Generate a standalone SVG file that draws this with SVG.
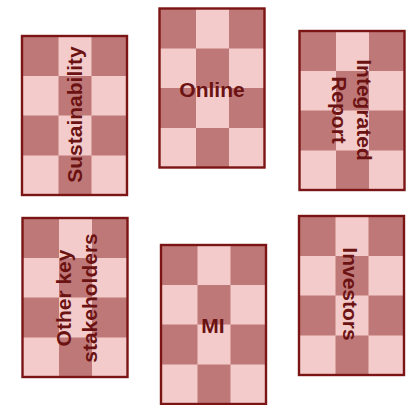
<svg xmlns="http://www.w3.org/2000/svg" xmlns:xlink="http://www.w3.org/1999/xlink" width="408" height="405" viewBox="0 0 408 405">
<style>
.lt{fill:#f4cbcb}
.dk{fill:#bf7878}
.bd{fill:none;stroke:#7b1515;stroke-width:2.4}
.lb{font-family:"Liberation Sans",Arial,sans-serif;font-weight:bold;font-size:21px;fill:#6b1212;text-anchor:middle}
</style>
<defs>
<g id="cb">
<rect class="lt" x="0" y="0" width="105" height="159"/>
<rect class="dk" x="0" y="0" width="36.5" height="40"/>
<rect class="dk" x="69.5" y="0" width="35.5" height="40"/>
<rect class="dk" x="36.5" y="40" width="33" height="39.5"/>
<rect class="dk" x="0" y="79.5" width="36.5" height="40"/>
<rect class="dk" x="69.5" y="79.5" width="35.5" height="40"/>
<rect class="dk" x="36.5" y="119.5" width="33" height="39.5"/>
<rect class="bd" x="0" y="0" width="105" height="159"/>
</g>
</defs>
<g id="connectors"/>
<g id="sustainability">
<use xlink:href="#cb" href="#cb" x="22" y="36"/>
<text class="lb" transform="translate(82,114.5) rotate(-90)">Sustainability</text>
</g>
<g id="online">
<use xlink:href="#cb" href="#cb" x="159.5" y="8.5"/>
<text class="lb" x="212" y="97">Online</text>
</g>
<g id="integrated-report">
<use xlink:href="#cb" href="#cb" x="299.5" y="31"/>
<text class="lb" transform="translate(357,110) rotate(90)">Integrated</text>
<text class="lb" transform="translate(332,110) rotate(90)">Report</text>
</g>
<g id="other-key-stakeholders">
<use xlink:href="#cb" href="#cb" x="22.5" y="218"/>
<text class="lb" transform="translate(71,298) rotate(-90)">Other key</text>
<text class="lb" transform="translate(97,298) rotate(-90)">stakeholders</text>
</g>
<g id="mi">
<use xlink:href="#cb" href="#cb" x="161" y="245"/>
<text class="lb" x="213" y="333">MI</text>
</g>
<g id="investors">
<use xlink:href="#cb" href="#cb" x="299" y="216"/>
<text class="lb" transform="translate(343,294) rotate(90)">Investors</text>
</g>
</svg>
